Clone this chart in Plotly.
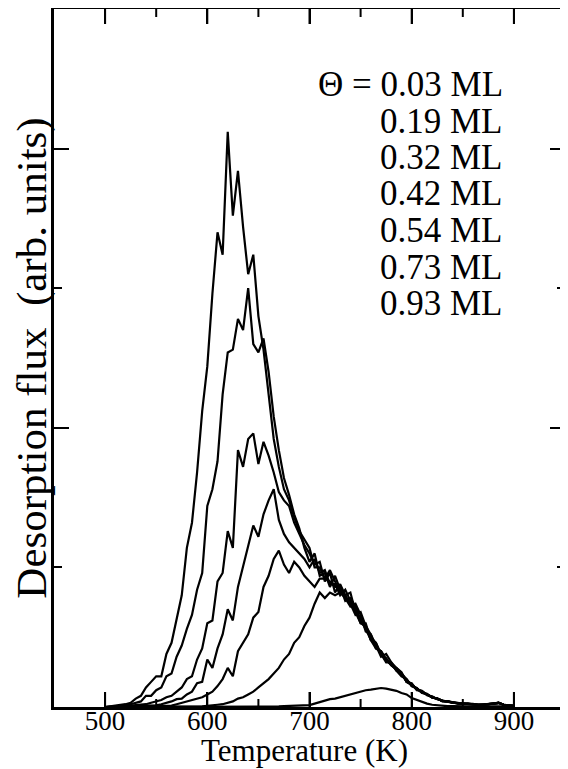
import plotly.graph_objects as go

temperature = list(range(500, 905, 5))

cov_labels = ["0.03 ML", "0.19 ML", "0.32 ML", "0.42 ML", "0.54 ML", "0.73 ML", "0.93 ML"]

x_major = [500, 600, 700, 800, 900]
x_minor = [550, 650, 750, 850]

flux_003 = [0]*32 + [
    0.0, 0.001, 0.002, 0.003, 0.004, 0.004, 0.005, 0.006, 0.007,
    0.012, 0.018, 0.022, 0.028, 0.03, 0.035, 0.04, 0.045, 0.05, 0.055, 0.06,
    0.062, 0.065, 0.068, 0.066, 0.062, 0.058, 0.05, 0.045, 0.032,
    0.025, 0.018, 0.012, 0.008, 0.006, 0.004, 0.003, 0.003,
    0.002, 0.002, 0.002, 0.002, 0.002, 0.002, 0.002, 0.002, 0.002, 0.002, 0.002, 0.002]

flux_019 = [0]*18 + [
    0.0, 0.002, 0.004, 0.005, 0.008, 0.01, 0.015, 0.02, 0.03, 0.035, 0.045,
    0.055, 0.07, 0.085, 0.10, 0.12, 0.14, 0.17, 0.19, 0.23, 0.25, 0.29,
    0.32, 0.37, 0.41, 0.39, 0.41, 0.40, 0.41, 0.39, 0.37, 0.34, 0.32, 0.28,
    0.24, 0.22, 0.19, 0.165, 0.155, 0.13, 0.12, 0.09, 0.08, 0.065, 0.052,
    0.045, 0.034, 0.03, 0.022, 0.02, 0.016, 0.014, 0.012, 0.012, 0.01, 0.008,
    0.008, 0.01, 0.012, 0.015, 0.008, 0.005, 0.004]

flux_032 = [
    0, 0, 0, 0, 0, 0.002, 0.002, 0.003, 0.003, 0.004, 0.004, 0.004, 0.005, 0.005,
    0.01, 0.015, 0.02, 0.025, 0.03, 0.035,
    0.045, 0.055, 0.075, 0.10, 0.14, 0.11, 0.20, 0.23, 0.26, 0.32, 0.34, 0.43,
    0.47, 0.53, 0.56, 0.51, 0.48, 0.52, 0.50, 0.47,
    0.45, 0.43, 0.46, 0.46, 0.45, 0.43, 0.43, 0.38, 0.39, 0.36, 0.31, 0.28,
    0.25, 0.23, 0.185, 0.175, 0.15, 0.135, 0.115, 0.095, 0.08, 0.065, 0.055,
    0.045, 0.035, 0.03, 0.022, 0.02, 0.016, 0.014, 0.012, 0.012, 0.01, 0.008,
    0.008, 0.01, 0.012, 0.015, 0.008, 0.005, 0.004]

flux_042 = [
    0, 0, 0, 0, 0.002, 0.003, 0.004, 0.004,
    0.005, 0.005, 0.006, 0.01, 0.015, 0.02, 0.028, 0.03, 0.045, 0.055, 0.085, 0.09,
    0.17, 0.14, 0.21, 0.26, 0.35, 0.31, 0.43, 0.50, 0.57, 0.65, 0.61, 0.69,
    0.74, 0.78, 0.67, 0.62, 0.59, 0.57, 0.55, 0.53,
    0.50, 0.53, 0.48, 0.49, 0.44, 0.44, 0.40, 0.42, 0.38, 0.35, 0.30, 0.29,
    0.26, 0.21, 0.20, 0.17, 0.15, 0.135, 0.12, 0.10, 0.075, 0.066, 0.053,
    0.046, 0.034, 0.03, 0.021, 0.02, 0.015, 0.014, 0.012, 0.012, 0.01, 0.008,
    0.008, 0.01, 0.012, 0.015, 0.008, 0.005, 0.004]

flux_054 = [
    0, 0, 0, 0.002, 0.003, 0.005, 0.006, 0.008,
    0.01, 0.015, 0.02, 0.025, 0.035, 0.04, 0.055, 0.07, 0.10, 0.11, 0.17, 0.21,
    0.30, 0.31, 0.45, 0.48, 0.63, 0.57, 0.92, 0.86, 0.96, 0.98, 0.87, 0.95,
    0.90, 0.84, 0.77, 0.74, 0.72, 0.66, 0.62, 0.58,
    0.55, 0.51, 0.52, 0.45, 0.48, 0.41, 0.44, 0.40, 0.37, 0.33, 0.34, 0.29,
    0.24, 0.23, 0.19, 0.16, 0.16, 0.14, 0.125, 0.09, 0.08, 0.063, 0.057,
    0.044, 0.036, 0.029, 0.023, 0.019, 0.016, 0.013, 0.012, 0.011, 0.01, 0.008,
    0.008, 0.01, 0.012, 0.015, 0.008, 0.005, 0.004]

flux_073 = [
    0, 0, 0.002, 0.003, 0.005, 0.01, 0.015, 0.02,
    0.04, 0.04, 0.06, 0.07, 0.11, 0.12, 0.18, 0.22, 0.28, 0.33, 0.42, 0.48,
    0.72, 0.78, 0.88, 1.12, 1.27, 1.28, 1.39, 1.35, 1.50, 1.30, 1.27, 1.32,
    1.20, 1.04, 0.92, 0.82, 0.76, 0.69, 0.64, 0.57,
    0.52, 0.55, 0.47, 0.48, 0.43, 0.47, 0.42, 0.39, 0.36, 0.37, 0.33, 0.27,
    0.26, 0.22, 0.18, 0.19, 0.16, 0.13, 0.11, 0.10, 0.075, 0.068, 0.05,
    0.047, 0.033, 0.031, 0.02, 0.021, 0.015, 0.015, 0.011, 0.013, 0.009, 0.009,
    0.007, 0.011, 0.011, 0.016, 0.007, 0.006, 0.003]

flux_093 = [
    0.0, 0.002, 0.005, 0.008, 0.01, 0.015, 0.03, 0.04,
    0.07, 0.09, 0.11, 0.11, 0.19, 0.23, 0.32, 0.40, 0.57, 0.66, 0.84, 1.06,
    1.22, 1.48, 1.70, 1.62, 2.06, 1.76, 1.92, 1.72, 1.55, 1.62, 1.40, 1.28,
    1.12, 0.96, 0.86, 0.78, 0.74, 0.68, 0.63, 0.60,
    0.57, 0.50, 0.50, 0.46, 0.49, 0.45, 0.41, 0.40, 0.41, 0.34, 0.30, 0.30,
    0.24, 0.21, 0.20, 0.17, 0.15, 0.14, 0.12, 0.09, 0.085, 0.06, 0.058,
    0.042, 0.038, 0.028, 0.024, 0.018, 0.017, 0.012, 0.013, 0.010, 0.011, 0.007,
    0.009, 0.009, 0.013, 0.014, 0.009, 0.005, 0.004]

series = [flux_003, flux_019, flux_032, flux_042, flux_054, flux_073, flux_093]
for s in series:
    assert len(s) == len(temperature), len(s)

fig = go.Figure()
for lab, s in zip(cov_labels, series):
    fig.add_trace(go.Scatter(x=temperature, y=s, mode="lines", name=lab,
                             line=dict(color="black", width=2.2), showlegend=False))

FONT = "Times New Roman"

# Figure is placed at (8, 8) in the page, so pixel positions below are page - 8
W, H = 559, 761
L, R, T, B = 46, 2, 1, 62
PW, PH = W - L - R, H - T - B

row_y = [84, 121, 157, 193, 230, 267, 303]
for i, (lab, yy) in enumerate(zip(cov_labels, row_y)):
    txt = ("\u0398 = " + lab) if i == 0 else lab
    fig.add_annotation(text=txt, xref="paper", yref="paper",
                       x=(505 - 8 - L) / PW, y=(H - B - (yy - 8)) / PH,
                       xanchor="right", yanchor="middle", showarrow=False,
                       font=dict(family=FONT, size=35, color="black"))

# x-axis title placed below the tick labels
fig.add_annotation(text="Temperature (K)", xref="paper", yref="paper",
                   x=(296 - L) / PW, y=(H - B - 742) / PH,
                   xanchor="center", yanchor="middle", showarrow=False,
                   font=dict(family=FONT, size=31, color="black"))

# inward x ticks on bottom and top frame edges (major and minor)
for xs, ln in ((x_major, 15), (x_minor, 8)):
    for xv in xs:
        fig.add_shape(type="line", xref="x", yref="paper", x0=xv, x1=xv,
                      y0=0, y1=ln / PH, line=dict(color="black", width=2))
        fig.add_shape(type="line", xref="x", yref="paper", x0=xv, x1=xv,
                      y0=1, y1=1 - ln / PH, line=dict(color="black", width=2))

fig.update_layout(
    width=W, height=H,
    margin=dict(l=L, r=R, t=T, b=B, autoexpand=False),
    paper_bgcolor="white", plot_bgcolor="white",
    font=dict(family=FONT, color="black"),
)
fig.update_xaxes(
    range=[450, 950], tickvals=x_major, ticks="inside", ticklen=15, tickwidth=2,
    tickcolor="black", showline=True, linewidth=2.5, linecolor="black", mirror="ticks",
    showgrid=False, zeroline=False, automargin=False, ticklabelstandoff=-12,
    tickfont=dict(family=FONT, size=27, color="black"),
)
fig.update_yaxes(
    range=[0, 2.5], dtick=1, tick0=0, ticks="inside", ticklen=15, tickwidth=2,
    tickcolor="black", showline=True, linewidth=2.5, linecolor="black", mirror="ticks",
    showgrid=False, zeroline=False, showticklabels=False, automargin=False,
    minor=dict(dtick=0.5, ticks="inside", ticklen=8, tickwidth=2, tickcolor="black"),
    title=dict(text="Desorption flux  (arb. units)", font=dict(family=FONT, size=43, color="black")),
)

fig.write_html("out.html", config={"responsive": False})
